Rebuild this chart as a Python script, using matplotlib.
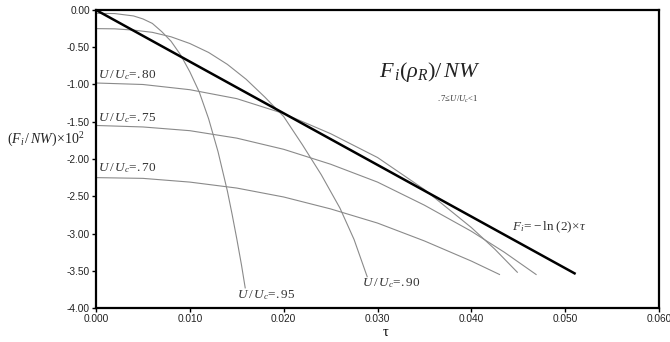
import numpy as np
import matplotlib
matplotlib.use('Agg')
import matplotlib.pyplot as plt

plt.rcParams['font.family'] = ['Liberation Sans', 'DejaVu Sans']
plt.rcParams['mathtext.fontset'] = 'custom'
plt.rcParams['mathtext.rm'] = 'Liberation Serif'
plt.rcParams['mathtext.it'] = 'Liberation Serif:italic'
plt.rcParams['mathtext.bf'] = 'Liberation Serif:bold'

# values (tau, F*100)
tau_95 = [0.0, 0.002, 0.004, 0.005, 0.006, 0.007, 0.008, 0.009, 0.010, 0.011,
          0.012, 0.013, 0.014, 0.0145, 0.015, 0.0155, 0.0159]
F_95 = [-0.045, -0.048, -0.08, -0.12, -0.18, -0.29, -0.42, -0.60, -0.83, -1.10,
        -1.46, -1.90, -2.43, -2.74, -3.07, -3.42, -3.73]

tau_90 = [0.0, 0.002, 0.004, 0.006, 0.008, 0.010, 0.012, 0.014, 0.016, 0.018,
          0.020, 0.022, 0.024, 0.026, 0.0275, 0.0289]
F_90 = [-0.25, -0.253, -0.27, -0.30, -0.36, -0.45, -0.57, -0.73, -0.93, -1.17,
        -1.43, -1.81, -2.21, -2.66, -3.08, -3.58]

tau_80 = [0.0, 0.005, 0.010, 0.015, 0.020, 0.025, 0.030, 0.035, 0.040,
          0.0425, 0.0449]
F_80 = [-0.98, -1.00, -1.07, -1.19, -1.39, -1.66, -1.98, -2.41, -2.92,
        -3.21, -3.52]

tau_75 = [0.0, 0.005, 0.010, 0.015, 0.020, 0.025, 0.030, 0.035, 0.040,
          0.0435, 0.0469]
F_75 = [-1.55, -1.57, -1.62, -1.72, -1.87, -2.07, -2.31, -2.62, -2.97,
        -3.25, -3.55]

tau_70 = [0.0, 0.005, 0.010, 0.015, 0.020, 0.025, 0.030, 0.035, 0.040, 0.043]
F_70 = [-2.25, -2.26, -2.31, -2.39, -2.51, -2.67, -2.86, -3.10, -3.37, -3.55]

tau_ln2 = [0.0, 0.051]
F_ln2 = [0.0, -3.535]

xticks = [0.0, 0.01, 0.02, 0.03, 0.04, 0.05, 0.06]
yticks = [0.0, -0.5, -1.0, -1.5, -2.0, -2.5, -3.0, -3.5, -4.0]

fig = plt.figure(figsize=(6.7, 3.42), dpi=100)
ax = fig.add_axes([0.1433, 0.0994, 0.8403, 0.8714])

grey = '#8a8a8a'
for t, f in [(tau_95, F_95), (tau_90, F_90), (tau_80, F_80),
             (tau_75, F_75), (tau_70, F_70)]:
    ax.plot(t, f, color=grey, lw=0.8)
ax.plot(tau_ln2, F_ln2, color='black', lw=1.8)

ax.set_xlim(0, 0.06)
ax.set_ylim(-4.0, 0.0)
ax.set_xticks(xticks)
ax.set_yticks(yticks)
ax.set_xticklabels(['%.3f' % v for v in xticks])
ax.set_yticklabels(['%.2f' % v for v in yticks])
ax.tick_params(direction='out', length=3, width=1, labelsize=7.3, pad=1.5,
               colors='black', labelcolor='#222222')
for s in ax.spines.values():
    s.set_linewidth(1.6)
    s.set_color('black')

ax.text(0.515, -0.08, r'$\mathrm{\tau}$', transform=ax.transAxes,
        ha='center', va='center', fontsize=10.5, family='DejaVu Sans')
fig.text(0.010, 1 - 140 / 342, r'$(F_i\,/\,NW)\!\times\!10^2$', fontsize=10,
         ha='left', va='center', color='#222222')

lbl = dict(fontsize=9.5, color='#333333', ha='left', va='bottom')
ax.text(0.0002, -0.97, r'$U\,/\,U_c\!=\!.80$', **lbl)
ax.text(0.0002, -1.54, r'$U\,/\,U_c\!=\!.75$', **lbl)
ax.text(0.0002, -2.22, r'$U\,/\,U_c\!=\!.70$', **lbl)
ax.text(0.0150, -3.92, r'$U\,/\,U_c\!=\!.95$', **lbl)
ax.text(0.0283, -3.76, r'$U\,/\,U_c\!=\!.90$', **lbl)
ax.text(0.0443, -3.02, r'$F_i\!=\!-\ln\,(2)\!\times\!\tau$', **lbl)

ax.text(0.0302, -1.0, r'$F_{\,i}(\rho_R)/\,NW$', fontsize=16,
        color='#222222', ha='left', va='bottom')
ax.text(0.0363, -1.28, r'$.7\!\leq\! U/U_c\!<\!1$', fontsize=6.2,
        color='#333333', ha='left', va='bottom')

fig.savefig('out.png', dpi=100)
